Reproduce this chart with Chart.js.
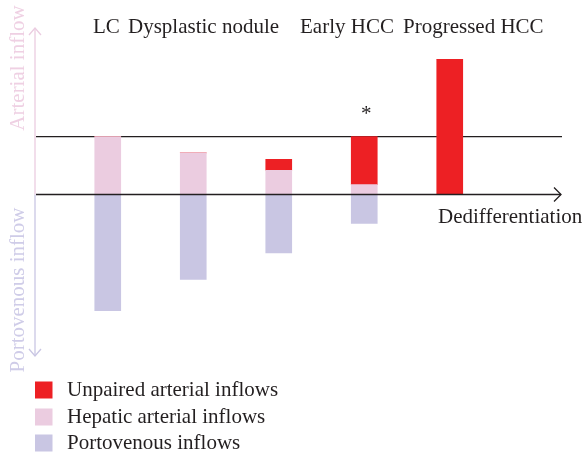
<!DOCTYPE html>
<html>
<head>
<meta charset="utf-8">
<script src="https://cdn.jsdelivr.net/npm/chart.js@4"></script>
<style>
  html, body { margin: 0; padding: 0; background: #fff; }
  #wrap { width: 584px; height: 454px; position: relative; }
</style>
</head>
<body>
<div id="wrap"><canvas id="chart"></canvas></div>
<script>
// stages of hepatocarcinogenesis (one bar each)
const bars = ['LC', 'DN', 'DN-high', 'Early HCC', 'Progressed HCC'];
const stageLabels = ['LC', 'Dysplastic nodule', 'Early HCC', 'Progressed HCC'];

// relative inflow, normal level = 100
const hepaticArterial = [100, 72, 42, 17, 0];
const unpairedArterial = [0, 0, 19, 83, 234];
const portovenous = [-201, -147, -101, -50, 0];

const normalLevel = 100;
const starredBar = 3;

const RED = '#ed2024';
const PINK = '#ebcce0';
const PURPLE = '#c9c6e3';
const INK = '#231f20';
const FONT = '"Liberation Serif", "DejaVu Serif", serif';

function arrowHead(ctx, x, y, dir) {
  // open chevron, dir: 'right' | 'up' | 'down'
  ctx.beginPath();
  if (dir === 'right') {
    ctx.moveTo(x - 7, y - 7); ctx.lineTo(x, y); ctx.lineTo(x - 7, y + 7);
  } else if (dir === 'up') {
    ctx.moveTo(x - 6, y + 7); ctx.lineTo(x, y); ctx.lineTo(x + 6, y + 7);
  } else {
    ctx.moveTo(x - 6, y - 7); ctx.lineTo(x, y); ctx.lineTo(x + 6, y - 7);
  }
  ctx.stroke();
}

const decor = {
  id: 'decor',
  beforeDatasetsDraw(chart) {
    const { ctx } = chart;
    const ys = chart.scales.y;
    const yNorm = ys.getPixelForValue(normalLevel);
    ctx.save();
    ctx.strokeStyle = INK;
    ctx.lineWidth = 1.3;
    ctx.beginPath();
    ctx.moveTo(36, yNorm);
    ctx.lineTo(562, yNorm);
    ctx.stroke();
    ctx.restore();
  },
  afterDatasetsDraw(chart) {
    const { ctx } = chart;
    const xs = chart.scales.x;
    const ys = chart.scales.y;
    const y0 = ys.getPixelForValue(0);
    ctx.save();

    // vertical arrow: arterial up, portovenous down
    ctx.lineWidth = 1.3;
    ctx.strokeStyle = PINK;
    ctx.beginPath(); ctx.moveTo(35, y0); ctx.lineTo(35, 28); ctx.stroke();
    arrowHead(ctx, 35, 28, 'up');
    ctx.strokeStyle = PURPLE;
    ctx.beginPath(); ctx.moveTo(35, y0); ctx.lineTo(35, 356); ctx.stroke();
    arrowHead(ctx, 35, 356, 'down');

    // zero axis with arrow
    ctx.strokeStyle = INK;
    ctx.beginPath(); ctx.moveTo(36, y0); ctx.lineTo(561, y0); ctx.stroke();
    arrowHead(ctx, 561, y0, 'right');

    ctx.font = '21px ' + FONT;
    ctx.fillStyle = INK;
    ctx.textBaseline = 'middle';
    ctx.textAlign = 'left';
    ctx.fillText('Dedifferentiation', 438, 217);

    // stage labels along the top
    const labelX = [93, 128, 300, 403];
    stageLabels.forEach((t, i) => ctx.fillText(t, labelX[i], 27));

    // asterisk over the early HCC bar
    const sx = xs.getPixelForValue(starredBar);
    const top = hepaticArterial[starredBar] + unpairedArterial[starredBar];
    ctx.textAlign = 'center';
    ctx.fillText('*', sx + 2, ys.getPixelForValue(top) - 22);

    // rotated axis titles
    ctx.save();
    ctx.translate(18, 0);
    ctx.rotate(-Math.PI / 2);
    ctx.textAlign = 'center';
    ctx.fillStyle = '#efd0e3';
    ctx.fillText('Arterial inflow', -68, 0);
    ctx.fillStyle = '#cfcce8';
    ctx.fillText('Portovenous inflow', -290, 0);
    ctx.restore();

    // legend
    ctx.textAlign = 'left';
    const rows = chart.data.datasets.slice().sort((a, b) => a.legendOrder - b.legendOrder);
    const rowY = [390, 417, 443];
    rows.forEach((ds, i) => {
      ctx.fillStyle = ds.backgroundColor;
      ctx.fillRect(35, rowY[i] - 8.5, 17.5, 17);
      ctx.fillStyle = INK;
      ctx.fillText(ds.label, 67, rowY[i]);
    });
    ctx.restore();
  }
};

new Chart(document.getElementById('chart'), {
  type: 'bar',
  data: {
    labels: bars,
    datasets: [
      { label: 'Hepatic arterial inflows', data: hepaticArterial, backgroundColor: PINK, legendOrder: 1 },
      { label: 'Unpaired arterial inflows', data: unpairedArterial, backgroundColor: RED, legendOrder: 0 },
      { label: 'Portovenous inflows', data: portovenous, backgroundColor: PURPLE, legendOrder: 2 },
    ],
  },
  options: {
    responsive: true,
    maintainAspectRatio: false,
    animation: false,
    layout: { padding: { left: 65, right: 91.5, top: 0, bottom: 0 } },
    datasets: { bar: { barThickness: 26, borderWidth: 0 } },
    scales: {
      x: { display: false, stacked: true },
      y: { display: false, stacked: true, min: -449, max: 336.5 },
    },
    plugins: { legend: { display: false }, tooltip: { enabled: false } },
  },
  plugins: [decor],
});
</script>
</body>
</html>
